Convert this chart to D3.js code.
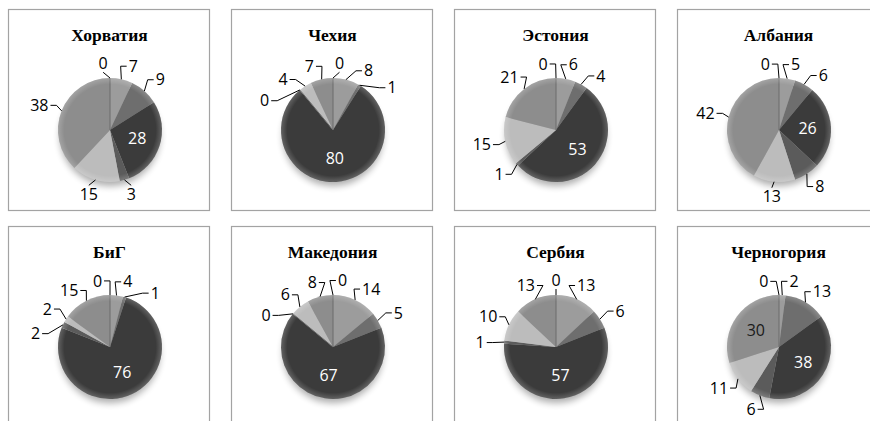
<!DOCTYPE html>
<html>
<head>
<meta charset="utf-8">
<script src="https://cdn.jsdelivr.net/npm/d3@7"></script>
<style>
  body { margin: 0; background: #fff; }
  .title { font-family: "Liberation Serif", serif; font-weight: bold; font-size: 17.5px; }
  .lbl { font-family: "Open Sans", sans-serif; font-size: 16px; }
</style>
</head>
<body>
<div id="chart"></div>
<script>
// country names, one panel each
const countries = ["Хорватия", "Чехия", "Эстония", "Албания", "БиГ", "Македония", "Сербия", "Черногория"];

// seven shares per country, clockwise from 12 o'clock
const hrv = [0, 7, 9, 28, 3, 15, 38];
const cze = [0, 8, 1, 80, 0, 4, 7];
const est = [0, 6, 4, 53, 1, 15, 21];
const alb = [0, 5, 6, 26, 8, 13, 42];
const bih = [0, 4, 1, 76, 2, 2, 15];
const mkd = [0, 14, 5, 67, 0, 6, 8];
const srb = [0, 13, 6, 57, 1, 10, 13];
const mne = [0, 2, 13, 38, 6, 11, 30];

const allValues = [hrv, cze, est, alb, bih, mkd, srb, mne];

const width = 870, height = 421;

// slice greys, one per category
const fillColour = d3.scaleOrdinal()
    .domain(d3.range(7))
    .range(["#7a7a7a", "#9c9c9c", "#6e6e6e", "#3b3b3b", "#5b5b5b", "#bcbcbc", "#8d8d8d"]);

// which categories get their label inside the slice
const insideLabels = { "Черногория": [3, 6] };

const colX = d3.scaleBand().domain(d3.range(4)).range([8, 878]).paddingInner(22 / 223);
const rowY = d3.scaleBand().domain(d3.range(2)).range([9, 427]).paddingInner(16 / 217);

const radius = 52;
// outside labels sit on an ellipse round the pie
const labelRx = 76, labelRy = 67;
const minSep = 23 * Math.PI / 180;

const svg = d3.select("#chart").append("svg")
    .attr("width", width)
    .attr("height", height);

const defs = svg.append("defs");
defs.append("filter").attr("id", "blur")
    .attr("x", "-30%").attr("y", "-30%").attr("width", "160%").attr("height", "160%")
  .append("feGaussianBlur").attr("stdDeviation", 3.5);

const rim = defs.append("radialGradient").attr("id", "rim");
rim.append("stop").attr("offset", "0%").attr("stop-color", "#fff").attr("stop-opacity", 0);
rim.append("stop").attr("offset", "88%").attr("stop-color", "#fff").attr("stop-opacity", 0);
rim.append("stop").attr("offset", "100%").attr("stop-color", "#fff").attr("stop-opacity", 0.2);

const pie = d3.pie().sort(null).value(d => d);
const arc = d3.arc().innerRadius(0).outerRadius(radius);
const centroidArc = d3.arc().innerRadius(0).outerRadius(radius * 1.1);

function polar(a, r) {
    return [Math.sin(a) * r, -Math.cos(a) * r];
}

// spread outside labels around the circle so they don't collide
function spread(labels) {
    labels.sort((a, b) => a.angle - b.angle);
    if (labels.length < 2) return;
    for (let it = 0; it < 200; it++) {
        for (let i = 0; i < labels.length; i++) {
            const a = labels[i];
            const b = labels[(i + 1) % labels.length];
            let diff = b.angle - a.angle;
            if (i === labels.length - 1) diff += 2 * Math.PI;
            if (diff < minSep) {
                const push = (minSep - diff) / 2;
                a.angle -= push;
                b.angle += push;
            }
        }
    }
}

countries.forEach((name, k) => {
    const col = k % 4, row = Math.floor(k / 4);
    const px = colX(col), py = rowY(row);
    const pw = colX.bandwidth(), ph = rowY.bandwidth();

    const g = svg.append("g").attr("transform", `translate(${px},${py})`);

    g.append("rect")
        .attr("x", 0.5).attr("y", 0.5)
        .attr("width", pw).attr("height", ph)
        .attr("fill", "#fff")
        .attr("stroke", "#a3a3a3")
        .attr("stroke-width", 1.2);

    g.append("text")
        .attr("class", "title")
        .attr("x", pw / 2 + 1)
        .attr("y", 32)
        .attr("text-anchor", "middle")
        .text(name);

    const cx = 102, cy = 121;
    const pg = g.append("g").attr("transform", `translate(${cx},${cy})`);

    // soft shadow under the pie, mostly below it
    pg.append("circle")
        .attr("cx", 0).attr("cy", 6)
        .attr("r", radius - 2)
        .attr("fill", "#000")
        .attr("opacity", 0.32)
        .attr("filter", "url(#blur)");

    const arcs = pie(allValues[k]);

    pg.selectAll("path.slice")
        .data(arcs)
        .enter()
        .append("path")
        .attr("class", "slice")
        .attr("d", arc)
        .attr("fill", (d, i) => fillColour(i));

    // zero slices show as a thin radius line
    pg.selectAll("line.zero")
        .data(arcs.filter(d => d.value === 0))
        .enter()
        .append("line")
        .attr("class", "zero")
        .attr("x1", 0).attr("y1", 0)
        .attr("x2", d => polar(d.startAngle, radius)[0])
        .attr("y2", d => polar(d.startAngle, radius)[1])
        .attr("stroke", "#6a6a6a")
        .attr("stroke-width", 1);

    pg.append("circle")
        .attr("r", radius)
        .attr("fill", "url(#rim)");

    const inside = insideLabels[name] || [3];

    // labels inside slices
    arcs.forEach((d, i) => {
        if (!inside.includes(i)) return;
        const c = centroidArc.centroid(d);
        pg.append("text")
            .attr("class", "lbl")
            .attr("x", c[0]).attr("y", c[1])
            .attr("dy", "0.35em")
            .attr("text-anchor", "middle")
            .attr("fill", i === 3 ? "#fff" : "#1a1a1a")
            .text(d.value);
    });

    // labels outside with leader lines
    const outer = [];
    arcs.forEach((d, i) => {
        if (inside.includes(i)) return;
        const mid = (d.startAngle + d.endAngle) / 2;
        outer.push({ d, mid, angle: mid });
    });
    spread(outer);

    outer.forEach(o => {
        const lx = Math.sin(o.angle) * labelRx;
        const ly = -Math.cos(o.angle) * labelRy;
        const t = pg.append("text")
            .attr("class", "lbl")
            .attr("x", lx).attr("y", ly)
            .attr("dy", "0.35em")
            .attr("text-anchor", "middle")
            .attr("fill", "#000")
            .text(o.d.value);
        const w = t.node().getComputedTextLength();
        const [ax, ay] = polar(o.mid, radius);
        let pts;
        if (Math.abs(lx - ax) < 7) {
            pts = [[ax, ay], [lx, ly + (ly < ay ? 9 : -9)]];
        } else if (lx > ax) {
            const ex = lx - w / 2 - 2;
            pts = [[ax, ay], [ex - 6, ly], [ex, ly]];
        } else {
            const ex = lx + w / 2 + 2;
            pts = [[ax, ay], [ex + 6, ly], [ex, ly]];
        }
        pg.append("path")
            .attr("d", d3.line()(pts))
            .attr("fill", "none")
            .attr("stroke", "#000")
            .attr("stroke-width", 1);
    });
});
</script>
</body>
</html>
